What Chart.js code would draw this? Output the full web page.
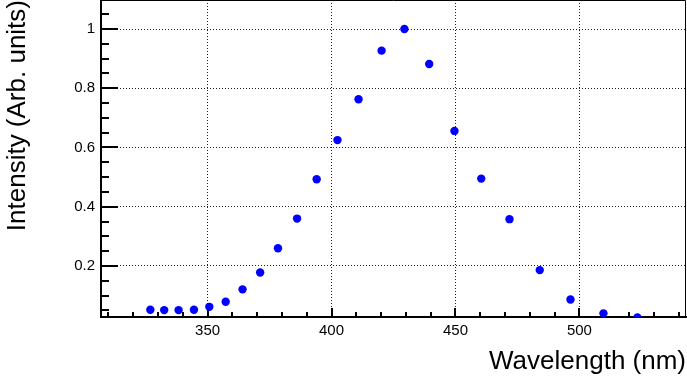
<!DOCTYPE html>
<html>
<head>
<meta charset="utf-8">
<script src="https://cdn.jsdelivr.net/npm/chart.js@4"></script>
<style>
  body { margin: 0; background: #fff; }
  #wrap { width: 687px; height: 379px; }
</style>
</head>
<body>
<div id="wrap"><canvas id="spectrum" width="687" height="379"></canvas></div>
<script>
// data
const wavelengths = [326.9, 332.5, 338.3, 344.5, 350.7, 357.3, 364.1, 371.2, 378.4, 386.1, 394.0, 402.4,
  410.9, 420.2, 429.4, 439.4, 449.6, 460.4, 471.8, 484.0, 496.4, 509.7, 523.4];
const intensity = [0.052, 0.051, 0.051, 0.052, 0.062, 0.079, 0.121, 0.178, 0.260, 0.360, 0.493, 0.625,
  0.763, 0.927, 1.0, 0.882, 0.656, 0.495, 0.358, 0.186, 0.087, 0.040, 0.026];
const xTicks = [350, 400, 450, 500];
const yTicks = [0.2, 0.4, 0.6, 0.8, 1];

const font = 'Liberation Sans, Arial, Helvetica, sans-serif';

// ROOT style frame: ticks inside, thin top/right border
const frame = {
  id: 'frame',
  beforeDatasetsDraw(chart) {
    const c = chart.ctx, a = chart.chartArea;
    const xs = chart.scales.x, ys = chart.scales.y;
    c.save();
    c.strokeStyle = '#000';
    c.lineWidth = 1;
    c.beginPath();
    c.moveTo(a.left, a.top + 0.5); c.lineTo(a.right - 0.5, a.top + 0.5);
    c.lineTo(a.right - 0.5, a.bottom);
    c.stroke();

    c.lineWidth = 2;
    c.beginPath();
    for (let v = 310; v <= xs.max; v += 10) {
      const px = Math.round(xs.getPixelForValue(v));
      const len = v % 50 === 0 ? 9 : 5;
      c.moveTo(px, a.bottom); c.lineTo(px, a.bottom - len);
    }
    for (let i = 1; i * 0.05 <= ys.max; i++) {
      const py = Math.round(ys.getPixelForValue(i * 0.05));
      const len = i % 4 === 0 ? 17 : 8;
      c.moveTo(a.left, py); c.lineTo(a.left + len, py);
    }
    c.stroke();
    c.restore();
  }
};

const ctx = document.getElementById('spectrum').getContext('2d');
new Chart(ctx, {
  type: 'scatter',
  data: {
    datasets: [{
      data: wavelengths.map((w, i) => ({ x: w, y: intensity[i] })),
      backgroundColor: '#0000ff',
      borderWidth: 0,
      pointRadius: 4.2
    }]
  },
  options: {
    responsive: false,
    animation: false,
    layout: { autoPadding: false, padding: { top: 0, right: 1, left: 0, bottom: 0 } },
    plugins: { legend: { display: false }, tooltip: { enabled: false } },
    scales: {
      x: {
        type: 'linear',
        min: 307,
        max: 543,
        afterFit: s => { s.height = 62; s.paddingLeft = 0; s.paddingRight = 0; },
        afterBuildTicks: s => { s.ticks = xTicks.map(v => ({ value: v })); },
        grid: { color: '#222', lineWidth: 1, drawTicks: false },
        border: { display: true, color: '#000', width: 2, dash: [1, 2] },
        ticks: { color: '#000', padding: 5, font: { family: font, size: 15 } },
        title: {
          display: true,
          text: 'Wavelength (nm)',
          align: 'end',
          color: '#000',
          padding: { top: 0, bottom: 2 },
          font: { family: font, size: 26 }
        }
      },
      y: {
        min: 0.0277,
        max: 1.098,
        afterFit: s => { s.width = 101; s.paddingTop = 0; s.paddingBottom = 0; },
        afterBuildTicks: s => { s.ticks = yTicks.map(v => ({ value: v })); },
        grid: { color: '#222', lineWidth: 1, drawTicks: false },
        border: { display: true, color: '#000', width: 2, dash: [1, 2] },
        ticks: {
          color: '#000',
          padding: 6,
          font: { family: font, size: 15 },
          callback: v => String(+v.toFixed(2))
        },
        title: {
          display: true,
          text: 'Intensity (Arb. units)',
          align: 'end',
          color: '#000',
          padding: { top: 2, bottom: 0 },
          font: { family: font, size: 26 }
        }
      }
    }
  },
  plugins: [frame]
});
</script>
</body>
</html>
